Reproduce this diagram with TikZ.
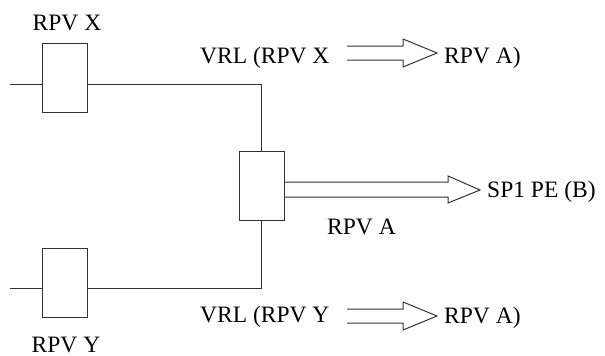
\documentclass[tikz,border=0pt]{standalone}
\usepackage{fontspec}
\setmainfont{Liberation Serif}
\begin{document}
\begin{tikzpicture}[x=1pt,y=-1pt,
  ln/.style={draw=black!80,line width=1pt},
  valve/.style={ln,rectangle,minimum width=45pt,minimum height=69pt,inner sep=0pt},
  lbl/.style={anchor=base west,inner sep=0pt,font=\fontsize{23.5}{28}\selectfont},
  lblc/.style={anchor=base,inner sep=0pt,font=\fontsize{23.5}{28}\selectfont}]
\useasboundingbox (0,0) rectangle (605,356);
% valves
\node[valve] (bx) at (64.5,78) {};
\node[valve] (by) at (64.5,282.5) {};
\node[valve] (ba) at (261.5,186) {};
% inlet stubs
\coordinate (inX) at (10,84);
\coordinate (inY) at (10,288);
\draw[ln] (inX) -- (bx.west |- inX);
\draw[ln] (inY) -- (by.west |- inY);
\draw[ln] (bx.east |- inX) -| (ba.north);
\draw[ln] (by.east |- inY) -| (ba.south);
% labels
\node[lblc] (tx) at (67,30) {RPV X};
\node[lblc] (ty) at (66,352) {RPV Y};
\node[lbl] (vx) at (200,63) {VRL (RPV X};
\node[lbl] (ax) at (444,63) {RPV A)};
\node[lbl] (vy) at (200,322) {VRL (RPV Y};
\node[lbl] (ay) at (444,323) {RPV A)};
\node[lbl] (sp) at (487,197) {SP1 PE (B)};
\node[lbl] (ra) at (327,234) {RPV A};
% open arrows
\draw[ln,line join=miter] (347,46) -- (403,46) -- (403,39) -- (437,53) -- (403,67) -- (403,60) -- (347,60);
\draw[ln,line join=miter] (347,309) -- (403,309) -- (403,302) -- (437,316) -- (403,330) -- (403,323) -- (347,323);
\draw[ln,line join=miter] (ba.east |- 0,182) -- (448,182) -- (448,176) -- (480,190) -- (448,203) -- (448,197) -- (ba.east |- 0,197);
\end{tikzpicture}
\end{document}
